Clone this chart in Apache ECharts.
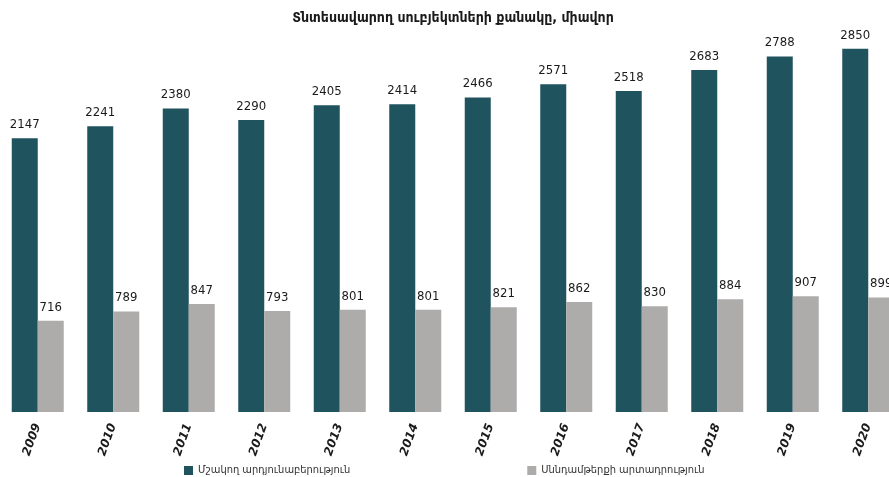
<!DOCTYPE html>
<html>
<head>
<meta charset="utf-8">
<script src="https://cdn.jsdelivr.net/npm/echarts@6/dist/echarts.min.js"></script>
<style>
  html, body { margin: 0; padding: 0; background: #fff; overflow: hidden; }
  #chart { width: 906px; height: 477px; }
</style>
</head>
<body>
<div id="chart"></div>
<script>
const years = ['2009', '2010', '2011', '2012', '2013', '2014', '2015', '2016', '2017', '2018', '2019', '2020'];
const processing = [2147, 2241, 2380, 2290, 2405, 2414, 2466, 2571, 2518, 2683, 2788, 2850];
const foodProduction = [716, 789, 847, 793, 801, 801, 821, 862, 830, 884, 907, 899];

// the source chart is a bit wider than the window, so the right edge gets cut
const chart = echarts.init(document.getElementById('chart'));
const labelStyle = {
  show: true,
  position: 'top',
  distance: 7,
  color: '#1a1a1a',
  fontSize: 13,
  fontFamily: '"Liberation Sans Narrow", "DejaVu Sans Condensed", sans-serif'
};
const option = {
  animation: false,
  title: {
    text: 'Տնտեսավարող սուբյեկտների քանակը, միավոր',
    left: 'center',
    top: 6,
    textStyle: {
      fontSize: 14,
      fontWeight: 'bold',
      color: '#1a1a1a',
      fontFamily: '"DejaVu Sans Condensed", sans-serif'
    }
  },
  legend: {
    left: 179,
    top: 460,
    itemWidth: 9,
    itemHeight: 9,
    itemGap: 177,
    icon: 'rect',
    textStyle: {
      fontSize: 11,
      color: '#333',
      fontFamily: '"DejaVu Sans Condensed", sans-serif'
    }
  },
  grid: {
    left: 0,
    right: 0,
    top: 29.5,
    bottom: 65,
    containLabel: false
  },
  xAxis: {
    type: 'category',
    data: years,
    axisLine: { show: false },
    axisTick: { show: false },
    axisLabel: {
      rotate: 70,
      margin: 12,
      fontSize: 12,
      fontStyle: 'italic',
      fontWeight: 'bold',
      color: '#1a1a1a',
      fontFamily: '"DejaVu Sans", sans-serif'
    }
  },
  yAxis: {
    type: 'value',
    min: 0,
    max: 3000,
    show: false,
    splitLine: { show: false }
  },
  series: [
    {
      name: 'Մշակող արդյունաբերություն',
      type: 'bar',
      data: processing,
      barWidth: 26,
      barGap: '0%',
      itemStyle: { color: '#1f535e' },
      label: labelStyle
    },
    {
      name: 'Սննդամթերքի արտադրություն',
      type: 'bar',
      data: foodProduction,
      barWidth: 26,
      itemStyle: { color: '#aeabab' },
      label: labelStyle
    }
  ]
};
chart.setOption(option);
</script>
</body>
</html>
